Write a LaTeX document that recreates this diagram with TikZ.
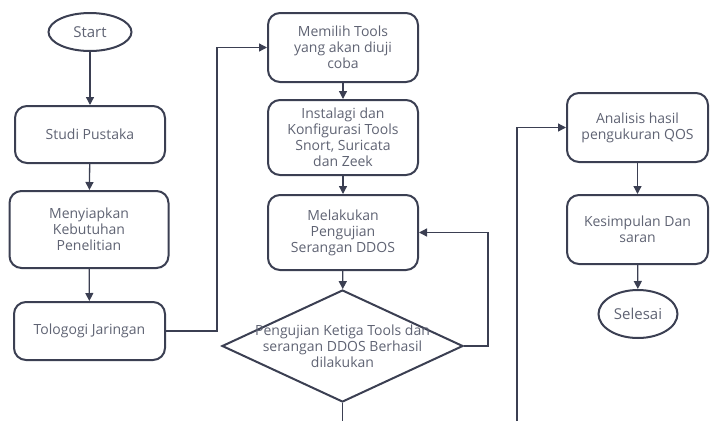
\documentclass[tikz,border=0pt]{standalone}
\usepackage{fontspec}
\setmainfont{Open Sans}
\usetikzlibrary{shapes.geometric,arrows.meta}

\definecolor{edge}{HTML}{3B3F52}
\definecolor{ink}{HTML}{5F6373}

\begin{document}
\begin{tikzpicture}[
  x=1pt, y=-1pt,
  font=\fontsize{14}{16}\selectfont, text=ink,
  box/.style={draw=edge, line width=2pt, rounded corners=12pt, align=center, minimum width=150pt},
  term/.style={draw=edge, line width=2pt, ellipse, inner sep=0pt, font=\fontsize{15}{18}\selectfont},
  decision/.style={draw=edge, line width=2pt, diamond, inner sep=0pt, minimum width=241pt, minimum height=112pt},
  arr/.style={draw=edge, line width=1.3pt, -{Triangle[length=8pt, width=8pt]}},
  line/.style={draw=edge, line width=1.3pt}
]
\useasboundingbox (0,0) rectangle (710,421);

% kolom kiri
\node[term, minimum width=83pt, minimum height=38pt] (start) at (90,32) {Start};
\node[box, minimum height=57pt] (studi) at (90,134.5) {Studi Pustaka};
\node[box, minimum width=159pt, minimum height=77pt] (siap) at (89,229.5) {Menyiapkan\\Kebutuhan\\Penelitian};
\node[box, minimum width=151pt, minimum height=58pt] (topo) at (89.5,331) {Tologogi Jaringan};

% kolom tengah
\node[box, minimum height=69pt] (pilih) at (343,47.5) {Memilih Tools\\yang akan diuji\\coba};
\node[box, minimum height=75pt] (instal) at (343,137.5) {Instalagi dan\\Konfigurasi Tools\\Snort, Suricata\\dan Zeek};
\node[box, minimum height=75pt] (uji) at (343,232.5) {Melakukan\\Pengujian\\Serangan DDOS};
\node[decision, label={[align=center]center:Pengujian Ketiga Tools dan\\serangan DDOS Berhasil\\dilakukan}] (cek) at (342.5,346) {};
\coordinate (bawah) at (cek.south |- 0,421);

% kolom kanan
\node[box, minimum width=141pt, minimum height=69pt] (qos) at (637.5,127.5) {Analisis hasil\\pengukuran QOS};
\node[box, minimum width=141pt, minimum height=69pt] (simpul) at (637.5,229.5) {Kesimpulan Dan\\saran};
\node[term, minimum width=79pt, minimum height=48pt] (selesai) at (638,314) {Selesai};
\coordinate (naik) at (517,421);

\draw[arr] (start) -- (studi);
\draw[arr] (studi) -- (siap);
\draw[arr] (siap) -- (topo);
\draw[arr] (topo.east) -- ++(51,0) |- (pilih.west);
\draw[arr] (pilih) -- (instal);
\draw[arr] (instal) -- (uji);
\draw[arr] (uji) -- (cek);
\draw[arr] (cek.east) -- ++(24,0) |- (uji.east);
\draw[line] (cek.south) -- (bawah);
\draw[arr] (naik) |- (qos.west);
\draw[arr] (qos) -- (simpul);
\draw[arr] (simpul) -- (selesai);
\end{tikzpicture}
\end{document}
